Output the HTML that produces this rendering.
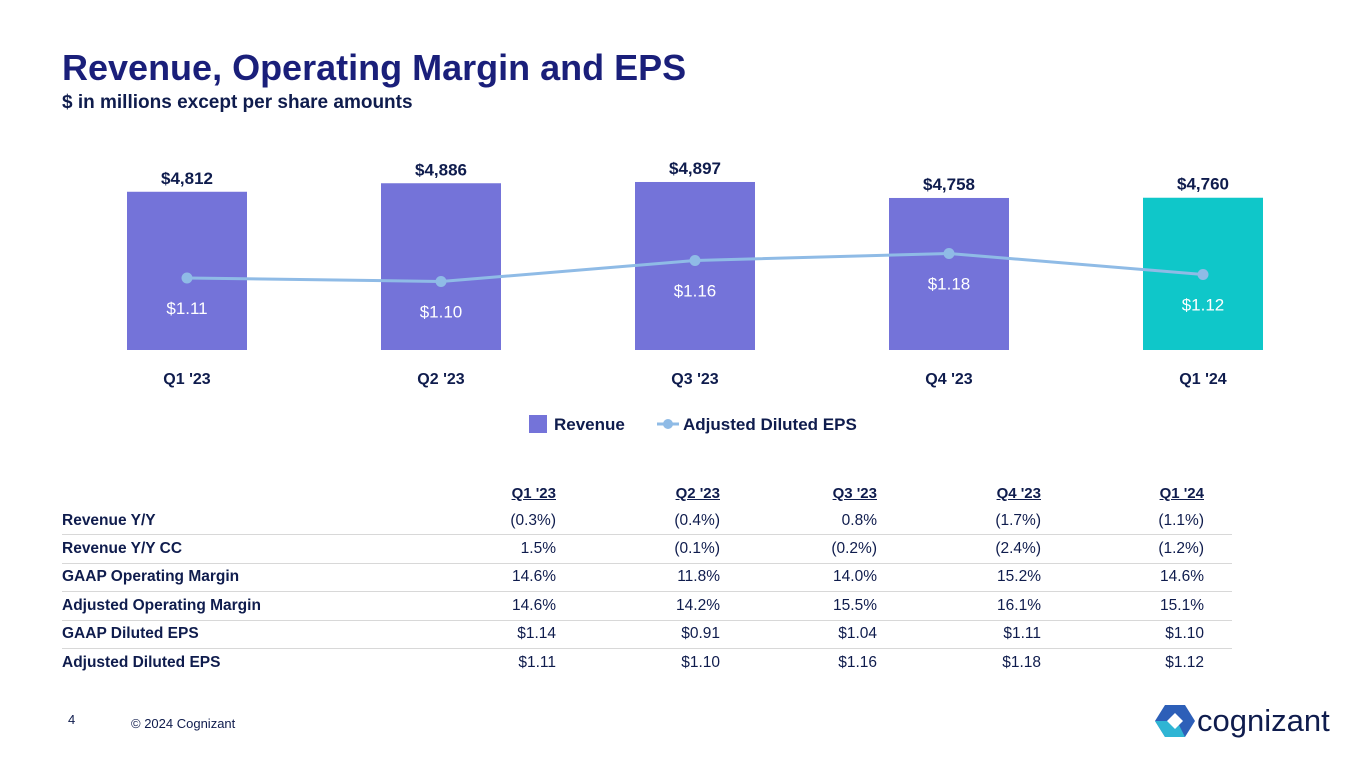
<!DOCTYPE html>
<html><head><meta charset="utf-8"><style>
body{margin:0;width:1365px;height:768px;background:#fff;font-family:"Liberation Sans",sans-serif;color:#0f1c4d;position:relative;overflow:hidden}
.a{position:absolute;white-space:nowrap}
table{position:absolute;left:62px;top:480px;width:1170px;border-collapse:collapse;font-size:15.5px;table-layout:fixed}
td{height:27.4px;padding:0;border-bottom:1px solid #d8d8d8;text-align:right;white-space:nowrap}
td:first-child{text-align:left;font-weight:bold}
tr:last-child td{border-bottom:none}
th{height:27px;text-align:right;font-weight:bold;text-decoration:underline;font-size:15px;padding:0}
</style></head><body>
<div class="a" style="left:62px;top:47px;font-size:36px;font-weight:bold;color:#1a1f7a">Revenue, Operating Margin and EPS</div>
<div class="a" style="left:62px;top:92px;font-size:19px;font-weight:bold">$ in millions except per share amounts</div>
<svg id="chart" width="1365" height="450" style="position:absolute;left:0;top:0"></svg>
<div class="a" style="left:529px;top:415px;font-size:17px;font-weight:bold"><span style="display:inline-block;width:18px;height:18px;background:#7473d9;vertical-align:-3px;margin-right:7px"></span>Revenue</div>
<div class="a" style="left:657px;top:415px;font-size:17px;font-weight:bold"><svg width="22" height="12" style="vertical-align:0;margin-right:4px"><line x1="0" y1="6" x2="22" y2="6" stroke="#8fbbe6" stroke-width="3"/><circle cx="11" cy="6" r="5" fill="#8fbbe6"/></svg>Adjusted Diluted EPS</div>
<table>
<colgroup><col style="width:300px"><col style="width:194px"><col style="width:164px"><col style="width:157px"><col style="width:164px"><col style="width:163px"><col style="width:28px"></colgroup>
<tr><th></th><th>Q1 '23</th><th>Q2 '23</th><th>Q3 '23</th><th>Q4 '23</th><th>Q1 '24</th><th></th></tr>
<tr><td>Revenue Y/Y</td><td>(0.3%)</td><td>(0.4%)</td><td>0.8%</td><td>(1.7%)</td><td>(1.1%)</td><td></td></tr>
<tr><td>Revenue Y/Y CC</td><td>1.5%</td><td>(0.1%)</td><td>(0.2%)</td><td>(2.4%)</td><td>(1.2%)</td><td></td></tr>
<tr><td>GAAP Operating Margin</td><td>14.6%</td><td>11.8%</td><td>14.0%</td><td>15.2%</td><td>14.6%</td><td></td></tr>
<tr><td>Adjusted Operating Margin</td><td>14.6%</td><td>14.2%</td><td>15.5%</td><td>16.1%</td><td>15.1%</td><td></td></tr>
<tr><td>GAAP Diluted EPS</td><td>$1.14</td><td>$0.91</td><td>$1.04</td><td>$1.11</td><td>$1.10</td><td></td></tr>
<tr><td>Adjusted Diluted EPS</td><td>$1.11</td><td>$1.10</td><td>$1.16</td><td>$1.18</td><td>$1.12</td><td></td></tr>
</table>
<div class="a" style="left:68px;top:712px;font-size:13px">4</div>
<div class="a" style="left:131px;top:716px;font-size:13px">© 2024 Cognizant</div>
<div class="a" style="left:1155px;top:703px">
<svg width="40" height="36" style="vertical-align:middle"><polygon points="10,2 30,2 40,18 30,34 10,34 0,18" fill="#2d5fb8"/><polygon points="0,18 10,34 30,34 22,18" fill="#2fb5d4"/><polygon points="12,18 20,10 28,18 20,26" fill="#fff"/></svg><span style="font-size:31px;color:#0f1c4d;vertical-align:middle;margin-left:2px">cognizant</span></div>
<script>
const categories=["Q1 '23","Q2 '23","Q3 '23","Q4 '23","Q1 '24"];
const revenue=[4812,4886,4897,4758,4760];
const revenueLabels=["$4,812","$4,886","$4,897","$4,758","$4,760"];
const eps=[1.11,1.10,1.16,1.18,1.12];
const epsLabels=["$1.11","$1.10","$1.16","$1.18","$1.12"];
const svg=document.getElementById('chart');const NS='http://www.w3.org/2000/svg';
const xC=i=>187+i*254;
const yR=v=>350-(v-3436)*0.115;
const yE=v=>278-(v-1.11)*350;
function mk(t,a){const e=document.createElementNS(NS,t);for(const k in a)e.setAttribute(k,a[k]);svg.appendChild(e);return e;}
categories.forEach((c,i)=>{
 const b=mk('rect',{x:xC(i)-60,y:yR(revenue[i]),width:120,height:350-yR(revenue[i]),fill:i==4?'#0fc7c9':'#7473d9'});
 
 
 const t=mk('text',{x:xC(i),y:yR(revenue[i])-8,'text-anchor':'middle','font-size':17,'font-weight':'bold',fill:'#0f1c4d','font-family':'Liberation Sans'});t.textContent=revenueLabels[i];
 
 
 const x=mk('text',{x:xC(i),y:384,'text-anchor':'middle','font-size':16,'font-weight':'bold',fill:'#0f1c4d','font-family':'Liberation Sans'});x.textContent=c;
 
 
});
const l=mk('polyline',{points:eps.map((v,i)=>xC(i)+','+yE(v)).join(' '),fill:'none',stroke:'#8fbbe6','stroke-width':3});


eps.forEach((v,i)=>{
 const c=mk('circle',{cx:xC(i),cy:yE(v),r:5.5,fill:'#8fbbe6'});
 
 
 const t=mk('text',{x:xC(i),y:yE(v)+36,'text-anchor':'middle','font-size':17,fill:'#fff','font-family':'Liberation Sans'});t.textContent=epsLabels[i];
 
 
});
</script>
</body></html>
